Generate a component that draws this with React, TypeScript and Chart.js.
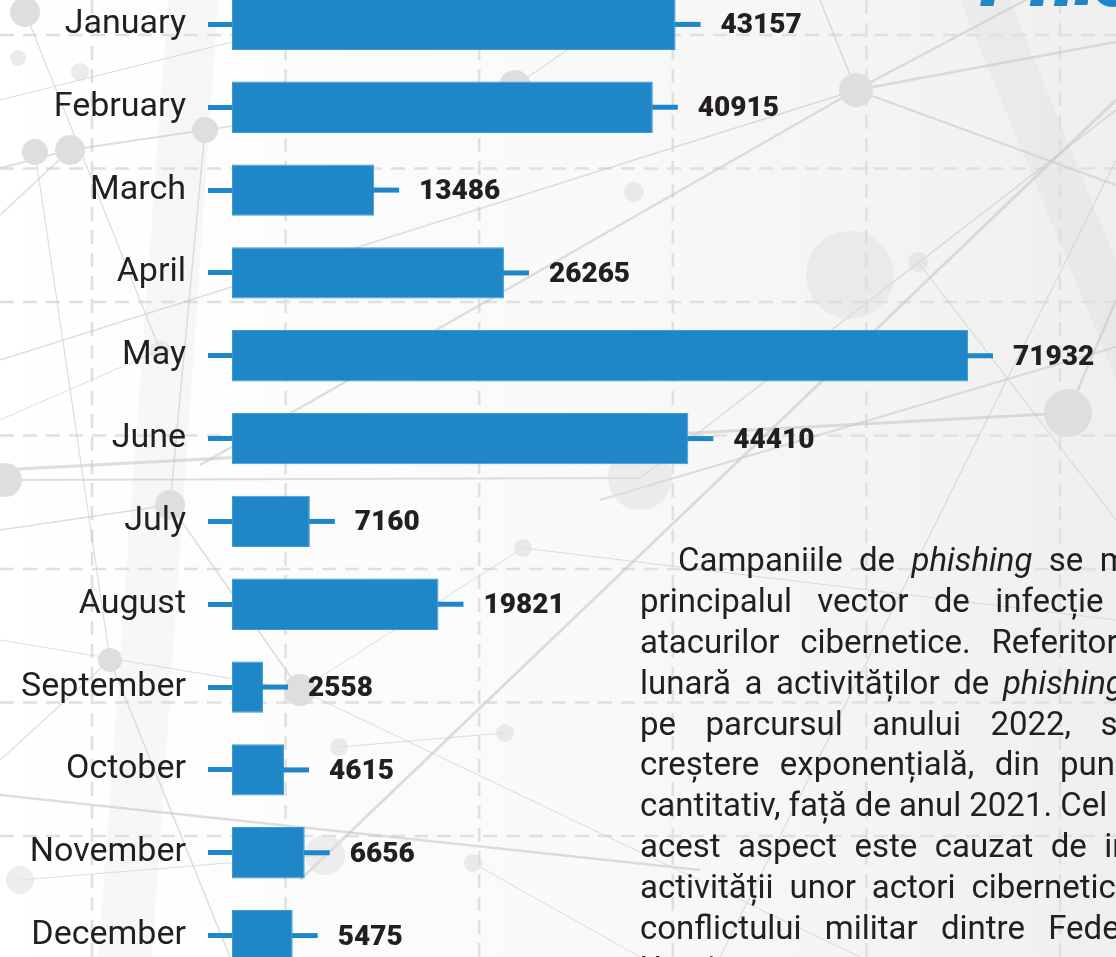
import React, { useEffect, useRef } from 'react';
import { Chart, registerables } from 'chart.js';

Chart.register(...registerables);

// ---- data ----
const months = [
  'January', 'February', 'March', 'April', 'May', 'June',
  'July', 'August', 'September', 'October', 'November', 'December',
];
const phishingCounts = [43157, 40915, 13486, 26265, 71932, 44410, 7160, 19821, 2558, 4615, 6656, 5475];
const valueMin = -500;
const valueMax = 86500;

const titleText = 'Phishing';
const paragraphLines = [
  'Campaniile de phishing se mențin ca',
  'principalul vector de infecție în cadrul',
  'atacurilor cibernetice. Referitor la evoluția',
  'lunară a activităților de phishing desfășurate',
  'pe parcursul anului 2022, se observă o',
  'creștere exponențială, din punct de vedere',
  'cantitativ, față de anul 2021. Cel mai probabil,',
  'acest aspect este cauzat de intensificarea',
  'activității unor actori cibernetici în contextul',
  'conflictului militar dintre Federația Rusă și',
  'Ucraina.',
];

// ---- styles / decoration ----
const BLUE = '#1f86c8';
const INK = '#231f20';
const CANVAS_TOP = -17;
const CANVAS_H = 994;
const W = 1116;
const H = 957;
// justified width of each paragraph line (px)
const lineWidths = [613, 632, 660, 672, 690, 678, 660, 662, 678, 690, 660];

// decorative network (page coordinates): [x, y, r, alpha]
const netNodes: number[][] = [
  [25, 12, 15, 1], [18, 58, 8, 0.6], [80, 72, 9, 0.6], [35, 152, 13, 1], [70, 150, 15, 1],
  [205, 130, 13, 1], [515, 86, 16, 1], [634, 192, 10, 0.6], [856, 90, 17, 1], [918, 262, 10, 0.6],
  [850, 275, 44, 0.45], [5, 480, 17, 1], [170, 505, 15, 1], [640, 478, 32, 0.5], [1068, 413, 24, 1],
  [110, 660, 12, 1], [300, 690, 16, 1], [523, 548, 9, 0.6], [505, 733, 9, 0.6], [339, 747, 9, 0.6],
  [473, 863, 9, 0.6], [325, 855, 20, 0.5], [160, 350, 10, 0.5], [20, 880, 14, 0.5],
];
// [x1, y1, x2, y2, width]
const netLinks: number[][] = [
  [856, 90, 1116, 42, 2.5], [856, 90, 1116, 185, 2], [856, 90, 1035, -5, 2.5], [856, 90, 820, 0, 1.5],
  [856, 90, 200, 465, 2.5], [856, 90, 0, 360, 1.5], [1116, 100, 300, 880, 3], [1116, 160, 720, 957, 1.2],
  [0, 168, 70, 150, 2], [70, 150, 205, 130, 2], [205, 130, 515, 86, 1.5], [515, 86, 640, 0, 1.2],
  [205, 130, 170, 505, 1.5], [70, 150, 0, 215, 1.5], [35, 152, 110, 660, 1.2], [0, 470, 1068, 413, 3],
  [5, 480, 640, 478, 2], [600, 500, 1116, 347, 2], [1068, 413, 1116, 300, 2.5], [170, 505, 300, 690, 1.5],
  [170, 505, 0, 530, 1.5], [300, 690, 0, 640, 1.2], [300, 690, 860, 957, 1], [0, 795, 700, 870, 2.5],
  [25, 12, 160, 350, 1.2], [160, 350, 0, 420, 1], [110, 660, 0, 760, 1.2], [110, 660, 230, 957, 1.5],
  [523, 548, 1116, 620, 1.2], [640, 478, 1116, 110, 1.5], [505, 733, 339, 747, 1], [473, 863, 640, 957, 1],
  [918, 262, 1116, 520, 1.2], [0, 100, 400, 0, 1.2], [300, 690, 523, 548, 1], [20, 880, 325, 855, 1.2],
];

const backgroundPlugin = {
  id: 'pageBackground',
  beforeDraw(chart: any) {
    const ctx = chart.ctx as CanvasRenderingContext2D;
    ctx.save();
    ctx.translate(0, -CANVAS_TOP);
    const g = ctx.createLinearGradient(0, 0, W, 0);
    g.addColorStop(0, '#ffffff');
    g.addColorStop(0.55, '#f9f9f9');
    g.addColorStop(1, '#efefef');
    ctx.fillStyle = g;
    ctx.fillRect(0, CANVAS_TOP, W, CANVAS_H);

    // faint broad bands
    ctx.fillStyle = 'rgba(0,0,0,0.028)';
    ctx.beginPath();
    ctx.moveTo(168, 0); ctx.lineTo(218, 0); ctx.lineTo(152, H); ctx.lineTo(98, H); ctx.closePath();
    ctx.fill();
    ctx.beginPath();
    ctx.moveTo(960, 0); ctx.lineTo(1010, 0); ctx.lineTo(1116, 260); ctx.lineTo(1116, 380); ctx.closePath();
    ctx.fill();

    // dashed grid
    ctx.strokeStyle = '#e0e0e0';
    ctx.lineWidth = 2.6;
    ctx.setLineDash([14, 9]);
    for (let x = 92; x < W; x += 193.6) {
      ctx.beginPath(); ctx.moveTo(x, 0); ctx.lineTo(x, H); ctx.stroke();
    }
    for (let y = 35; y < H; y += 133.5) {
      ctx.beginPath(); ctx.moveTo(0, y); ctx.lineTo(W, y); ctx.stroke();
    }
    ctx.setLineDash([]);

    // network
    ctx.strokeStyle = 'rgba(200,200,202,0.6)';
    netLinks.forEach(([x1, y1, x2, y2, w]) => {
      ctx.lineWidth = w;
      ctx.beginPath(); ctx.moveTo(x1, y1); ctx.lineTo(x2, y2); ctx.stroke();
    });
    netNodes.forEach(([x, y, r, a]) => {
      ctx.fillStyle = `rgba(222,222,224,${a})`;
      ctx.beginPath(); ctx.arc(x, y, r, 0, Math.PI * 2); ctx.fill();
    });
    ctx.restore();
  },
};

const whiskerLabelPlugin = {
  id: 'whiskerLabels',
  afterDatasetsDraw(chart: any) {
    const ctx = chart.ctx as CanvasRenderingContext2D;
    const meta = chart.getDatasetMeta(0);
    const values = chart.data.datasets[0].data as number[];
    ctx.save();
    ctx.strokeStyle = BLUE;
    ctx.lineWidth = 5;
    ctx.fillStyle = INK;
    ctx.font = '900 28px Roboto';
    ctx.textBaseline = 'middle';
    ctx.textAlign = 'left';
    meta.data.forEach((el: any, i: number) => {
      ctx.beginPath();
      ctx.moveTo(el.x - 1, el.y);
      ctx.lineTo(el.x + 25, el.y);
      ctx.stroke();
      ctx.fillText(String(values[i]), el.x + 45, el.y + 2);
    });
    ctx.restore();
  },
};

export default function App() {
  const canvasRef = useRef<HTMLCanvasElement | null>(null);

  useEffect(() => {
    if (!canvasRef.current) return;
    const chart = new Chart(canvasRef.current, {
      type: 'bar',
      data: {
        labels: months,
        datasets: [
          {
            data: phishingCounts,
            base: valueMin,
            backgroundColor: BLUE,
            borderColor: '#3f9ad4',
            borderWidth: 1,
            borderSkipped: false,
            categoryPercentage: 0.62,
            barPercentage: 1,
          } as any,
        ],
      },
      options: {
        indexAxis: 'y',
        responsive: false,
        animation: false,
        layout: { padding: 0, autoPadding: false },
        plugins: { legend: { display: false }, tooltip: { enabled: false } },
        scales: {
          x: { type: 'linear', min: valueMin, max: valueMax, display: false },
          y: {
            type: 'category',
            offset: true,
            border: { display: false },
            grid: {
              display: true,
              offset: false,
              drawOnChartArea: false,
              drawTicks: true,
              tickLength: 24,
              tickColor: BLUE,
              tickWidth: 5,
            },
            ticks: {
              color: INK,
              padding: 22,
              font: { family: 'Roboto', size: 34, weight: 'normal' },
            },
            afterFit(scale: any) {
              scale.width = 232;
              scale.paddingTop = 0;
              scale.paddingBottom = 0;
            },
          },
        },
      },
      plugins: [backgroundPlugin, whiskerLabelPlugin],
    });
    return () => chart.destroy();
  }, []);

  return (
    <div style={{ position: 'fixed', left: 0, top: 0, width: W, height: H, overflow: 'hidden', background: '#fff' }}>
      <canvas
        ref={canvasRef}
        width={W}
        height={CANVAS_H}
        style={{ position: 'absolute', left: 0, top: CANVAS_TOP, width: W, height: CANVAS_H }}
      />
      <div
        style={{
          position: 'absolute', left: 980, top: -61, fontFamily: 'Roboto', fontWeight: 900,
          fontStyle: 'italic', fontSize: 80, lineHeight: '80px', color: BLUE, whiteSpace: 'nowrap',
        }}
      >
        {titleText}
      </div>
      <div
        style={{
          position: 'absolute', left: 640, top: 540, fontFamily: 'Roboto',
          fontSize: 33, lineHeight: '40.9px', color: INK,
        }}
      >
        {paragraphLines.map((line, i) => {
          const last = i === paragraphLines.length - 1;
          return (
            <div
              key={i}
              style={{
                display: 'flex',
                justifyContent: last ? 'flex-start' : 'space-between',
                gap: 8,
                whiteSpace: 'nowrap',
                width: lineWidths[i],
                boxSizing: 'border-box',
                paddingLeft: i === 0 ? 38 : 0,
                height: 40.9,
              }}
            >
              {line.split(' ').map((w, j) => (
                <span key={j} style={{ fontStyle: w.startsWith('phishing') ? 'italic' : 'normal' }}>{w}</span>
              ))}
            </div>
          );
        })}
      </div>
    </div>
  );
}
